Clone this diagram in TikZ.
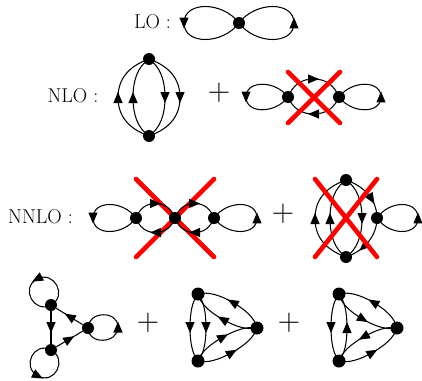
\documentclass[tikz,border=0pt]{standalone}
\usetikzlibrary{arrows.meta,decorations.markings,calc}
\tikzset{
  vtx/.style={circle,fill=black,inner sep=0pt,minimum size=12pt},
  vtxb/.style={circle,fill=black,inner sep=0pt,minimum size=13pt},
  ln/.style={line width=1.05pt,black},
  fl/.style={ln,postaction={decorate},decoration={markings,mark=at position #1 with {\arrow[xshift=5.5pt]{Triangle[length=11pt,width=9pt]}}}},
  fl/.default=0.5,
  xout/.style={line width=4.6pt,red,line cap=round},
  lbl/.style={inner sep=0pt,font=\fontsize{20}{24}\selectfont},
  pl/.style={inner sep=0pt,font=\fontsize{31}{34}\selectfont},
}
\newcommand{\tear}[3]{\draw[fl] (#1.center) .. controls ($(#1.center)+(0.3*#2,#3)$) and ($(#1.center)+(#2,#3)$) .. ($(#1.center)+(#2,0)$) .. controls ($(#1.center)+(#2,-#3)$) and ($(#1.center)+(0.3*#2,-#3)$) .. (#1.center);}
\newcommand{\arc}[4][0.5]{\draw[fl=#1] (#2.center) .. controls ($(#2.center)+0.7*#4+0.1*(#3.center)-0.1*(#2.center)$) and ($(#2.center)!.5!(#3.center)+#4+0.225*(#2.center)-0.225*(#3.center)$) .. ($(#2.center)!.5!(#3.center)+#4$) .. controls ($(#2.center)!.5!(#3.center)+#4+0.225*(#3.center)-0.225*(#2.center)$) and ($(#3.center)+0.7*#4+0.1*(#2.center)-0.1*(#3.center)$) .. (#3.center);}
\newcommand{\cloop}[3]{\draw[fl] (#1.center) .. controls ($(#1.center)+#3$) and ($(#1.center)+#2+#3$) .. ($(#1.center)+#2$) .. controls ($(#1.center)+#2-1*#3$) and ($(#1.center)-1*#3$) .. (#1.center);}
\begin{document}
\begin{tikzpicture}[x=1pt,y=-1pt]
\useasboundingbox (0,0) rectangle (422,380);
% LO
\node[lbl] (tlo) at (152.5,22) {LO :};
\node[vtx] (a) at (239,23) {};
\tear{a}{-55}{-22}
\tear{a}{55}{22}
% NLO first
\node[lbl] (tnlo) at (73,96) {NLO :};
\node[vtx] (b1) at (149,59) {};
\node[vtx] (b2) at (149,136) {};
\arc{b2}{b1}{(-31,0)}
\arc{b2}{b1}{(-16,0)}
\arc{b1}{b2}{(16,0)}
\arc{b1}{b2}{(31,0)}
\node[pl] (p1) at (219,93) {+};
% NLO second
\node[vtx] (c1) at (288,97) {};
\node[vtx] (c2) at (339,97) {};
\tear{c1}{-42}{-17}
\tear{c2}{42}{17}
\arc{c1}{c2}{(0,-18)}
\arc{c2}{c1}{(0,17)}
\coordinate (x1a) at (288,72); \coordinate (x1b) at (340,123);
\coordinate (x1c) at (340,72); \coordinate (x1d) at (288,123);
\draw[xout] (x1a) -- (x1b);
\draw[xout] (x1c) -- (x1d);
% NNLO first (the cross lies under this graph)
\coordinate (x2a) at (136,179); \coordinate (x2b) at (214,257);
\coordinate (x2c) at (214,179); \coordinate (x2d) at (136,257);
\draw[xout] (x2a) -- (x2b);
\draw[xout] (x2c) -- (x2d);
\node[lbl] (tnn) at (40.5,217) {NNLO :};
\node[vtx] (d1) at (136,218) {};
\node[vtx] (d2) at (175,218) {};
\node[vtx] (d3) at (214,218) {};
\tear{d1}{-43}{-18}
\tear{d3}{43}{18}
\arc{d1}{d2}{(0,-14.5)}
\arc{d2}{d1}{(0,14.5)}
\arc{d2}{d3}{(0,-14.5)}
\arc{d3}{d2}{(0,14.5)}
\node[pl] (p2) at (283,214) {+};
% NNLO second
\node[vtx] (e1) at (346,180) {};
\node[vtx] (e2) at (346,257) {};
\node[vtx] (e3) at (377,218) {};
\arc{e2}{e1}{(-31,0)}
\arc{e2}{e1}{(-16,0)}
\arc{e1}{e2}{(16,0)}
\draw[fl=0.62] (e1.center) .. controls ($(e1.center)+(18,6)$) and ($(e3.center)+(0,-18)$) .. (e3.center);
\draw[fl=0.62] (e3.center) .. controls ($(e3.center)+(0,18)$) and ($(e2.center)+(18,-6)$) .. (e2.center);
\tear{e3}{41}{18}
\coordinate (x3a) at (315,179); \coordinate (x3b) at (377,257);
\coordinate (x3c) at (377,179); \coordinate (x3d) at (315,257);
\draw[xout] (x3a) -- (x3b);
\draw[xout] (x3c) -- (x3d);
% bottom first
\node[vtx] (f1) at (51,305) {};
\node[vtx] (f2) at (51,350) {};
\node[vtx] (f3) at (88,328) {};
\cloop{f1}{(-14,-26)}{(17,-9)}
\cloop{f2}{(-13,26)}{(-17,-9)}
\cloop{f3}{(30,-1)}{(0,17)}
\draw[fl] (f1) -- (f2);
\draw[fl] (f3) -- (f1);
\draw[fl] (f2) -- (f3);
\node[pl] (p3) at (148,323) {+};
% bottom second
\node[vtxb] (g1) at (198,294) {};
\node[vtxb] (g2) at (198,361) {};
\node[vtxb] (g3) at (257,328) {};
\arc{g1}{g2}{(-8,0)}
\arc{g1}{g2}{(8,0)}
\arc{g3}{g1}{(5.5,-8.5)}
\arc{g3}{g1}{(-5.5,8)}
\arc{g2}{g3}{(-4.5,-7.5)}
\arc{g2}{g3}{(4.5,8)}
\node[pl] (p4) at (289,323) {+};
% bottom third
\node[vtxb] (h1) at (339,294) {};
\node[vtxb] (h2) at (339,361) {};
\node[vtxb] (h3) at (397,328) {};
\arc{h1}{h2}{(-8,0)}
\arc{h2}{h1}{(8,0)}
\arc{h3}{h1}{(5.5,-8.5)}
\arc{h1}{h3}{(-5.5,8)}
\arc{h3}{h2}{(-4.5,-7.5)}
\arc{h2}{h3}{(4.5,8)}
\end{tikzpicture}
\end{document}
